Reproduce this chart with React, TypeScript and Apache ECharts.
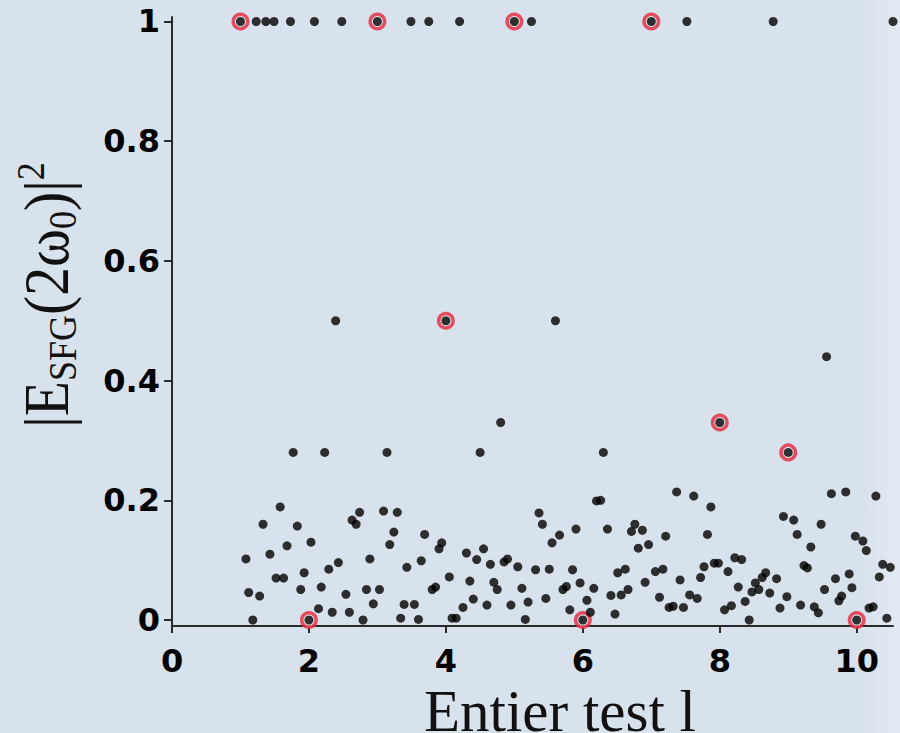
import React, { useEffect, useRef } from "react";
import * as echarts from "echarts";

// Tick values
const xTicks = [0, 2, 4, 6, 8, 10];
const yTicks = [0, 0.2, 0.4, 0.6, 0.8, 1];

// Highlighted (red ringed) integer points
const highlightX = [1, 2, 3, 4, 5, 6, 7, 8, 9, 10];
const highlightY = [1, 0, 1, 0.5, 1, 0, 1, 0.33, 0.28, 0];

// Points on |E|^2 = 1
const topRowX = [1.23, 1.37, 1.49, 1.73, 2.08, 2.48, 3.49, 3.75, 4.2, 5.25, 7.52, 8.78, 10.53];
// Points on |E|^2 = 0.5
const halfRowX = [2.39, 5.6];
// Isolated intermediate points
const midX = [9.56, 4.8, 1.77, 2.23, 3.14, 4.5, 6.3];
const midY = [0.44, 0.33, 0.28, 0.28, 0.28, 0.28, 0.28];

// Low-value cluster
const clusterX = [
  1.58, 1.33, 1.83, 2.74, 2.63, 2.69, 3.09, 3.29, 3.24, 3.18, 1.68, 2.03, 1.08, 1.43, 2.43, 2.29, 2.89, 3.43, 1.93, 1.52,
  1.63, 1.12, 1.28, 1.88, 2.18, 2.54, 2.84, 3.03, 2.94, 3.39, 2.14, 2.34, 2.59, 1.18, 2.79, 3.34, 3.69, 3.94, 3.9, 3.64,
  4.3, 4.55, 4.45, 4.65, 4.85, 4.9, 5.05, 4.05, 4.35, 3.8, 3.85, 4.7, 4.75, 5.11, 3.54, 4.4, 4.25, 4.6, 4.95, 5.2,
  3.6, 4.09, 4.15, 5.16, 5.36, 5.41, 5.66, 5.55, 5.9, 6.2, 6.26, 6.36, 6.76, 6.71, 6.87, 6.81, 6.96, 5.31, 5.51, 5.85,
  5.96, 5.71, 5.76, 6.16, 6.51, 6.62, 6.91, 6.66, 6.41, 6.56, 5.46, 6.06, 5.81, 6.11, 6.47, 7.37, 7.62, 7.87, 7.21, 7.82,
  7.06, 7.17, 7.42, 7.77, 7.92, 7.98, 7.72, 8.12, 8.22, 8.32, 7.12, 7.26, 7.32, 7.47, 7.56, 7.67, 8.27, 8.37, 8.07, 8.17,
  8.43, 8.47, 8.52, 8.57, 8.62, 8.67, 8.73, 8.83, 8.98, 8.88, 9.18, 9.38, 9.44, 8.93, 9.08, 9.13, 9.33, 9.48, 9.63, 9.84,
  10.28, 9.98, 10.09, 10.14, 9.23, 9.28, 9.69, 9.89, 9.53, 9.93, 9.74, 9.78, 10.38, 10.49, 10.33, 10.18, 10.24, 10.44,
];
const clusterY = [
  0.189, 0.16, 0.157, 0.18, 0.167, 0.16, 0.182, 0.18, 0.147, 0.126, 0.124, 0.13, 0.102, 0.11, 0.096, 0.085, 0.102, 0.088, 0.079, 0.07,
  0.07, 0.046, 0.04, 0.051, 0.055, 0.043, 0.051, 0.051, 0.027, 0.026, 0.019, 0.013, 0.013, 0.0, 0.0, 0.003, 0.143, 0.129, 0.119, 0.099,
  0.112, 0.119, 0.101, 0.093, 0.097, 0.102, 0.089, 0.072, 0.065, 0.051, 0.055, 0.063, 0.051, 0.053, 0.026, 0.035, 0.021, 0.025, 0.025, 0.03,
  0.001, 0.003, 0.003, 0.001, 0.179, 0.16, 0.142, 0.129, 0.152, 0.199, 0.2, 0.152, 0.16, 0.148, 0.15, 0.12, 0.126, 0.084, 0.085, 0.084,
  0.062, 0.051, 0.056, 0.053, 0.079, 0.085, 0.063, 0.051, 0.041, 0.042, 0.036, 0.033, 0.017, 0.013, 0.01, 0.214, 0.207, 0.189, 0.14, 0.143,
  0.081, 0.085, 0.067, 0.089, 0.095, 0.095, 0.071, 0.081, 0.104, 0.101, 0.038, 0.021, 0.023, 0.021, 0.042, 0.036, 0.055, 0.031, 0.017, 0.024,
  0.0, 0.047, 0.062, 0.051, 0.071, 0.079, 0.045, 0.069, 0.039, 0.02, 0.025, 0.022, 0.012, 0.173, 0.167, 0.143, 0.122, 0.16, 0.211, 0.214,
  0.207, 0.14, 0.132, 0.116, 0.091, 0.087, 0.069, 0.077, 0.051, 0.054, 0.032, 0.04, 0.093, 0.088, 0.072, 0.02, 0.022, 0.003,
];

const AXIS_COLOR = "#2a2a2a";
const TICK_FONT = "DejaVu Sans";
const SERIF = "Liberation Serif";

export default function App() {
  const ref = useRef<HTMLDivElement>(null);

  useEffect(() => {
    if (!ref.current) return;
    const chart = echarts.init(ref.current, null, { renderer: "svg" });

    const highlightData = highlightX.map((x, i) => [x, highlightY[i]]);
    const dotData: number[][] = [
      ...highlightData,
      ...topRowX.map((x) => [x, 1]),
      ...halfRowX.map((x) => [x, 0.5]),
      ...midX.map((x, i) => [x, midY[i]]),
      ...clusterX.map((x, i) => [x, clusterY[i]]),
    ];

    chart.setOption({
      animation: false,
      backgroundColor: "#d8e2ec",
      grid: { left: 172, right: 7, top: 17, bottom: 107, containLabel: false },
      xAxis: {
        type: "value",
        min: 0,
        max: 10.53,
        axisLine: { onZero: false, lineStyle: { color: AXIS_COLOR, width: 2 } },
        axisTick: { show: true, customValues: xTicks, length: 7, lineStyle: { color: AXIS_COLOR, width: 2 } },
        axisLabel: {
          customValues: xTicks,
          fontFamily: TICK_FONT,
          fontWeight: "bold",
          fontSize: 32,
          lineHeight: 32,
          color: "#000",
          margin: 19,
        },
        splitLine: { show: false },
      },
      yAxis: {
        type: "value",
        min: -0.01,
        max: 1.0075,
        axisLine: { onZero: false, lineStyle: { color: AXIS_COLOR, width: 2 } },
        axisTick: { show: true, customValues: yTicks, length: 8, lineStyle: { color: AXIS_COLOR, width: 2 } },
        axisLabel: {
          customValues: yTicks,
          fontFamily: TICK_FONT,
          fontWeight: "bold",
          fontSize: 32,
          color: "#000",
          margin: 12,
        },
        splitLine: { show: false },
      },
      graphic: [
        {
          type: "rect",
          z: -10,
          silent: true,
          shape: { x: 860, y: 0, width: 40, height: 733 },
          style: {
            fill: new echarts.graphic.LinearGradient(0, 0, 1, 0, [
              { offset: 0, color: "rgba(226,234,243,0)" },
              { offset: 1, color: "rgba(226,234,243,1)" },
            ]),
          },
        },
        {
          type: "text",
          x: 560,
          y: 711,
          silent: true,
          style: {
            text: "Entier test l",
            fontSize: 59,
            lineHeight: 44,
            fontFamily: SERIF,
            fill: "#111",
            align: "center",
            verticalAlign: "middle",
            textAlign: "center",
            textVerticalAlign: "middle",
          },
        },
        {
          type: "text",
          x: 46,
          y: 295,
          rotation: Math.PI / 2,
          scaleX: 0.9,
          silent: true,
          style: {
            text: "{m||E}{s|SFG}{m|(2ω}{s|0}{m|)|}{p|2}",
            fill: "#111",
            align: "center",
            verticalAlign: "middle",
            textAlign: "center",
            textVerticalAlign: "middle",
            rich: {
              m: { fontSize: 64, fontFamily: SERIF, lineHeight: 72, verticalAlign: "middle", fill: "#111" },
              s: { fontSize: 40, fontFamily: SERIF, lineHeight: 40, verticalAlign: "bottom", fill: "#111" },
              p: { fontSize: 40, fontFamily: SERIF, lineHeight: 40, verticalAlign: "top", fill: "#111" },
            },
          },
        },
      ],
      series: [
        {
          name: "highlight",
          type: "scatter",
          clip: false,
          z: 2,
          symbol: "circle",
          symbolSize: 14.5,
          itemStyle: { color: "#e9eff5", borderColor: "#e5263b", borderWidth: 3.5 },
          data: highlightData,
        },
        {
          name: "points",
          type: "scatter",
          clip: false,
          z: 3,
          symbol: "circle",
          symbolSize: 9,
          itemStyle: { color: "#000" },
          data: dotData,
        },
      ],
    });

    return () => chart.dispose();
  }, []);

  return <div ref={ref} style={{ position: "fixed", left: 0, top: 0, width: 900, height: 733 }} />;
}
